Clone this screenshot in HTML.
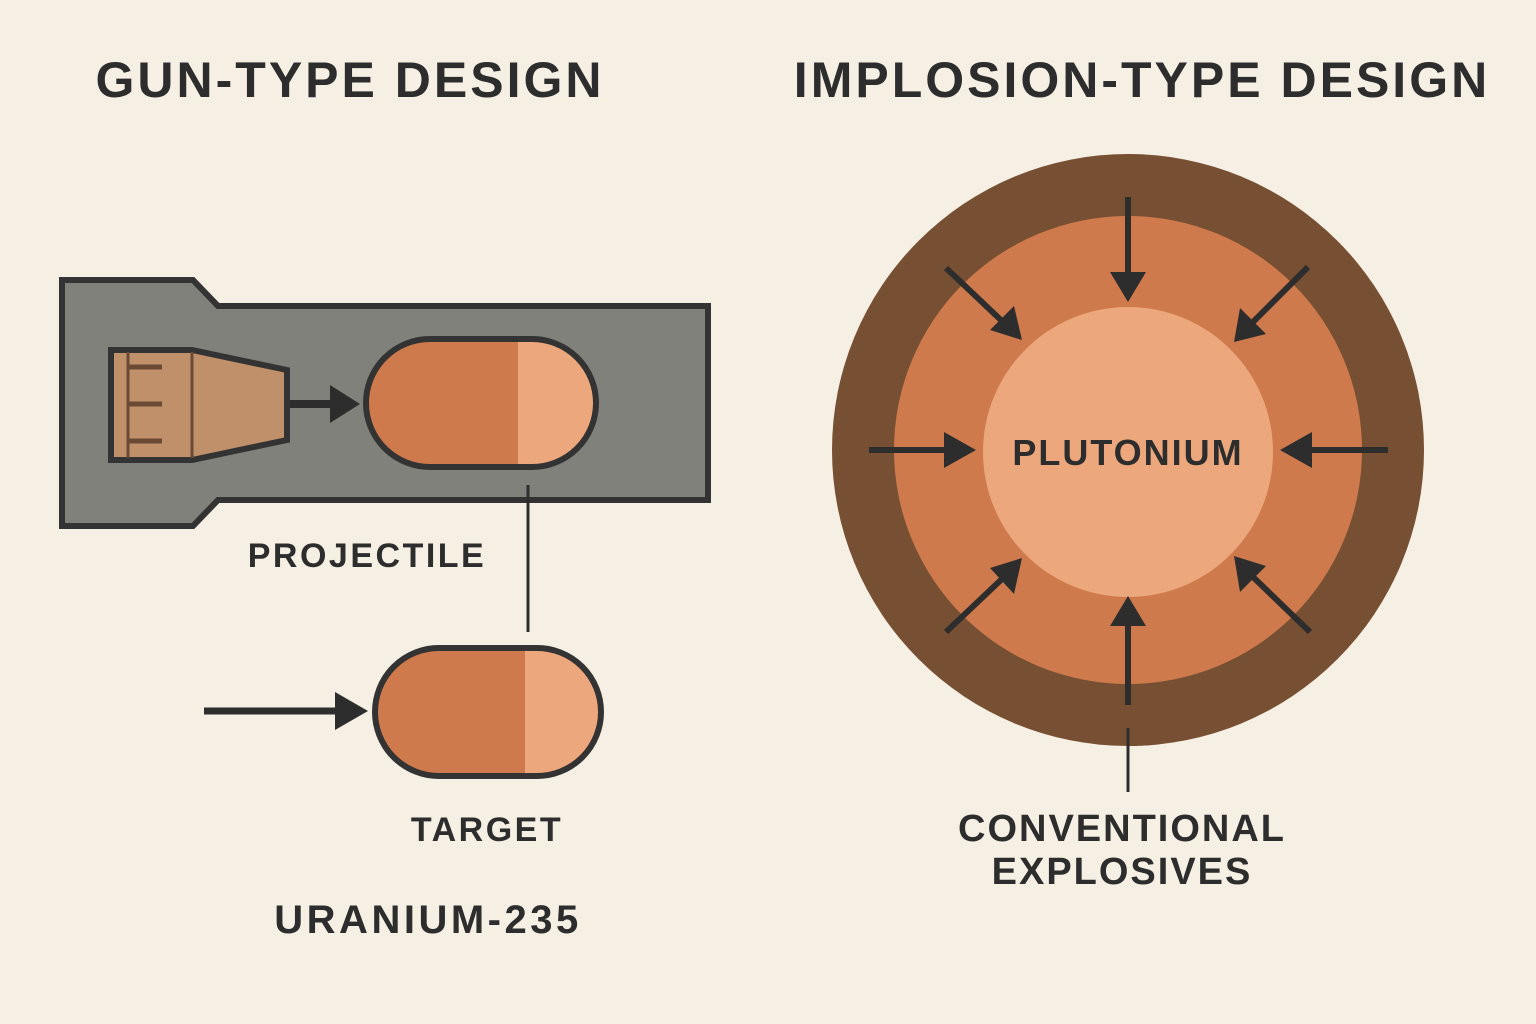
<!DOCTYPE html>
<html><head><style>
body{margin:0;background:#f6f0e4;}
svg{display:block}
text{font-family:"Liberation Sans",sans-serif;font-weight:bold;fill:#2d2d2d}
</style></head><body>
<svg width="1536" height="1024" viewBox="0 0 1536 1024">
<rect width="1536" height="1024" fill="#f6f0e4"/>
<text x="350" y="97" font-size="50" text-anchor="middle" letter-spacing="3">GUN-TYPE DESIGN</text>
<text x="1142" y="97" font-size="50" text-anchor="middle" letter-spacing="3">IMPLOSION-TYPE DESIGN</text>
<path d="M62,280 L193,280 L218,306 L708,306 L708,500 L218,500 L193,526 L62,526 Z" fill="#7f817a" stroke="#333" stroke-width="6"/>
<path d="M111,350 L192,350 L287,370 L287,440 L192,460 L111,460 Z" fill="#c0906a" stroke="#333" stroke-width="6"/>
<line x1="128" y1="352" x2="128" y2="458" stroke="#6b4a35" stroke-width="3"/>
<line x1="192" y1="352" x2="192" y2="458" stroke="#6b4a35" stroke-width="3"/>
<g stroke="#6b4a35" stroke-width="5"><line x1="128" y1="367" x2="162" y2="367"/><line x1="128" y1="404" x2="162" y2="404"/><line x1="128" y1="441" x2="162" y2="441"/></g>
<line x1="290" y1="404" x2="335" y2="404" stroke="#2d2d2d" stroke-width="8"/>
<polygon points="330,385 360,404 330,423" fill="#2d2d2d"/>
<defs><clipPath id="c1"><rect x="366" y="339" width="230" height="128" rx="64"/></clipPath>
<clipPath id="c2"><rect x="375" y="648" width="226" height="128" rx="64"/></clipPath></defs>
<g clip-path="url(#c1)"><rect x="366" y="339" width="152" height="128" fill="#cf7a4c"/><rect x="518" y="339" width="80" height="128" fill="#eca87c"/></g>
<rect x="366" y="339" width="230" height="128" rx="64" fill="none" stroke="#333" stroke-width="6"/>
<g clip-path="url(#c2)"><rect x="375" y="648" width="150" height="128" fill="#cf7a4c"/><rect x="525" y="648" width="80" height="128" fill="#eca87c"/></g>
<rect x="375" y="648" width="226" height="128" rx="64" fill="none" stroke="#333" stroke-width="6"/>
<line x1="528" y1="485" x2="528" y2="632" stroke="#2d2d2d" stroke-width="3"/>
<line x1="204" y1="711" x2="340" y2="711" stroke="#2d2d2d" stroke-width="7"/>
<polygon points="335,692 368,711 335,730" fill="#2d2d2d"/>
<text x="367" y="567" font-size="34" text-anchor="middle" letter-spacing="2.5">PROJECTILE</text>
<text x="487" y="841" font-size="34" text-anchor="middle" letter-spacing="2.5">TARGET</text>
<text x="428" y="933" font-size="40" text-anchor="middle" letter-spacing="3.5">URANIUM-235</text>
<circle cx="1128" cy="450" r="296" fill="#774f32"/>
<circle cx="1128" cy="450" r="234" fill="#cf7a4c"/>
<circle cx="1128" cy="452" r="145" fill="#eca87c"/>
<text x="1128" y="465" font-size="36" text-anchor="middle" letter-spacing="2">PLUTONIUM</text>
<g stroke="#2d2d2d" stroke-width="6" fill="#2d2d2d">
<line x1="1128" y1="197" x2="1128" y2="280"/><polygon points="1110,272 1146,272 1128,302" stroke="none"/>
<line x1="1128" y1="705" x2="1128" y2="620"/><polygon points="1110,626 1146,626 1128,596" stroke="none"/>
<line x1="869" y1="450" x2="950" y2="450"/><polygon points="944,432 944,468 976,450" stroke="none"/>
<line x1="1388" y1="450" x2="1308" y2="450"/><polygon points="1312,432 1312,468 1280,450" stroke="none"/>
<line x1="946" y1="268" x2="1003" y2="322"/><polygon points="990,330 1014,306 1022,340" stroke="none"/>
<line x1="1308" y1="267" x2="1252" y2="323"/><polygon points="1240,308 1266,334 1234,342" stroke="none"/>
<line x1="946" y1="632" x2="1003" y2="578"/><polygon points="990,568 1014,594 1022,558" stroke="none"/>
<line x1="1310" y1="632" x2="1252" y2="576"/><polygon points="1240,592 1266,566 1234,556" stroke="none"/>
</g>
<line x1="1128" y1="728" x2="1128" y2="792" stroke="#2d2d2d" stroke-width="3"/>
<text x="1122" y="841" font-size="38" text-anchor="middle" letter-spacing="2">CONVENTIONAL</text>
<text x="1122" y="884" font-size="38" text-anchor="middle" letter-spacing="2">EXPLOSIVES</text>
</svg>
</body></html>
